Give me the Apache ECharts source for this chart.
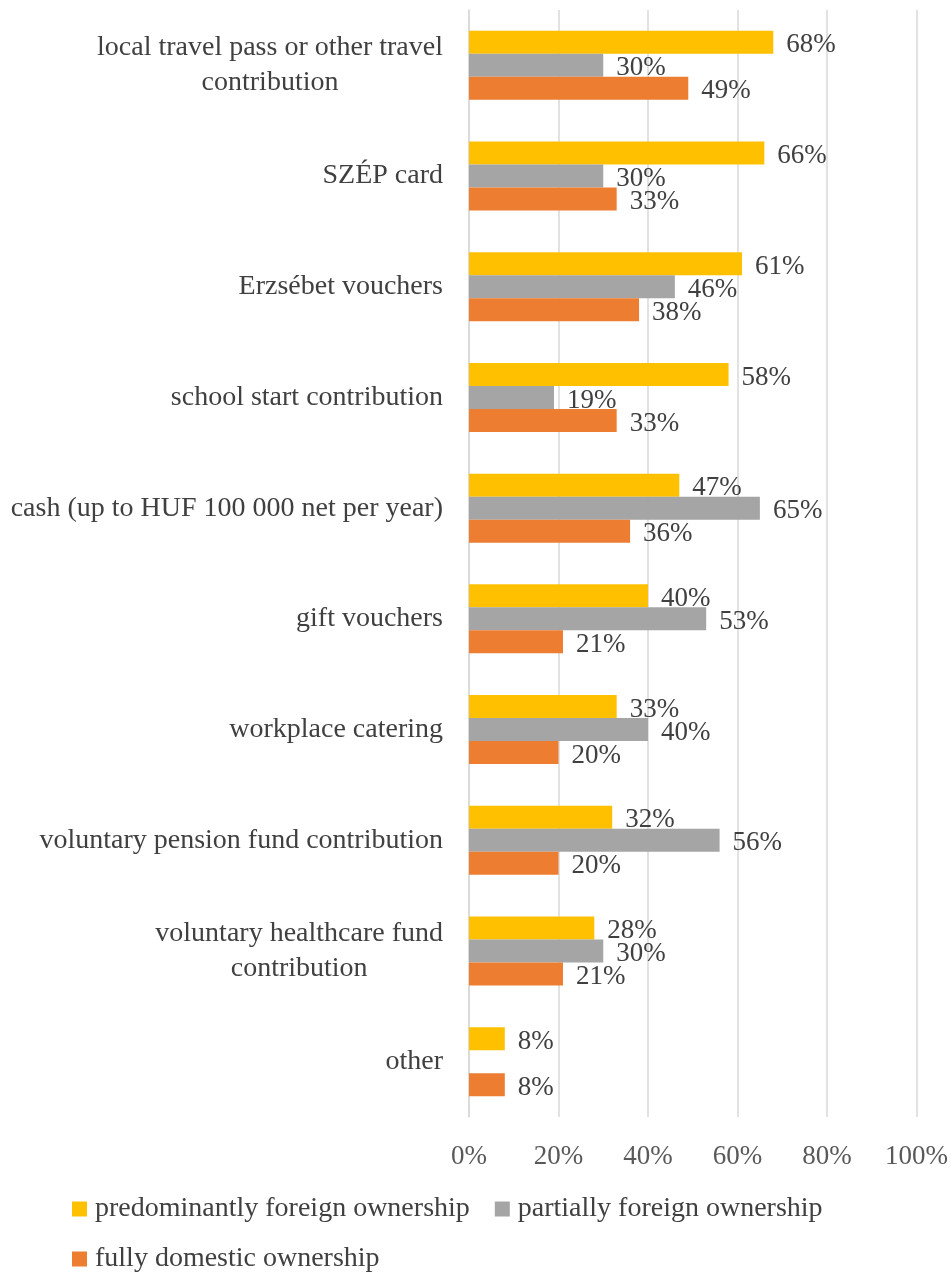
<!DOCTYPE html>
<html>
<head>
<meta charset="utf-8">
<script src="https://cdn.jsdelivr.net/npm/echarts@6/dist/echarts.min.js"></script>
<style>
  html, body { margin: 0; padding: 0; background: #fff; }
  #chart { width: 951px; height: 1272px; }
</style>
</head>
<body>
<div id="chart"></div>
<script>
// categories, top to bottom
const categories = [
  'local travel pass or other travel\ncontribution',
  'SZÉP card',
  'Erzsébet vouchers',
  'school start contribution',
  'cash (up to HUF 100 000 net per year)',
  'gift vouchers',
  'workplace catering',
  'voluntary pension fund contribution',
  'voluntary healthcare fund\ncontribution',
  'other'
];

const seriesNames = [
  'predominantly foreign ownership',
  'partially foreign ownership',
  'fully domestic ownership'
];

// percentages
const predominantlyForeign = [68, 66, 61, 58, 47, 40, 33, 32, 28, 8];
const partiallyForeign = [30, 30, 46, 19, 65, 53, 40, 56, 30, '-'];
const fullyDomestic = [49, 33, 38, 33, 36, 21, 20, 20, 21, 8];

const xTicks = [0, 20, 40, 60, 80, 100];

const colors = ['#FFC000', '#A5A5A5', '#ED7D31'];
const FONT = 'Liberation Serif';
const TEXT = '#404040';

const chart = echarts.init(document.getElementById('chart'));

const makeSeries = (name, data, color) => ({
  name: name,
  type: 'bar',
  data: data,
  barWidth: 23,
  barGap: '0%',
  itemStyle: { color: color },
  label: {
    show: true,
    position: 'right',
    distance: 13,
    offset: [0, 3],
    formatter: '{c}%',
    color: TEXT,
    fontFamily: FONT,
    fontSize: 27
  }
});

const legendText = { color: TEXT, fontFamily: FONT, fontSize: 28, padding: [0, 0, 0, 3] };

const option = {
  animation: false,
  backgroundColor: '#fff',
  grid: { left: 469, right: 33, top: 10, bottom: 155, containLabel: false },
  xAxis: {
    type: 'value',
    min: xTicks[0],
    max: xTicks[xTicks.length - 1],
    interval: 20,
    axisLine: { show: false },
    axisTick: { show: false },
    axisLabel: {
      formatter: '{value}%',
      color: '#595959',
      fontFamily: FONT,
      fontSize: 27,
      margin: 26
    },
    splitLine: { lineStyle: { color: '#D9D9D9', width: 1.5 } }
  },
  yAxis: {
    type: 'category',
    inverse: true,
    data: categories,
    axisLine: { show: true, lineStyle: { color: '#D9D9D9', width: 1.5 } },
    axisTick: { show: false },
    axisLabel: {
      margin: 26,
      formatter: v => v.split('\n').map(l => '{c|' + l + '}').join('\n'),
      rich: {
        c: {
          align: 'center',
          color: TEXT,
          fontFamily: FONT,
          fontSize: 28,
          lineHeight: 35
        }
      }
    }
  },
  legend: [
    {
      data: seriesNames.slice(0, 2),
      left: 72,
      top: 1195,
      padding: 0,
      itemWidth: 15,
      itemHeight: 15,
      itemGap: 25,
      icon: 'rect',
      textStyle: legendText
    },
    {
      data: seriesNames.slice(2),
      left: 72,
      top: 1245,
      padding: 0,
      itemWidth: 15,
      itemHeight: 15,
      icon: 'rect',
      textStyle: legendText
    }
  ],
  series: [
    makeSeries(seriesNames[0], predominantlyForeign, colors[0]),
    makeSeries(seriesNames[1], partiallyForeign, colors[1]),
    makeSeries(seriesNames[2], fullyDomestic, colors[2])
  ]
};

chart.setOption(option);
</script>
</body>
</html>
